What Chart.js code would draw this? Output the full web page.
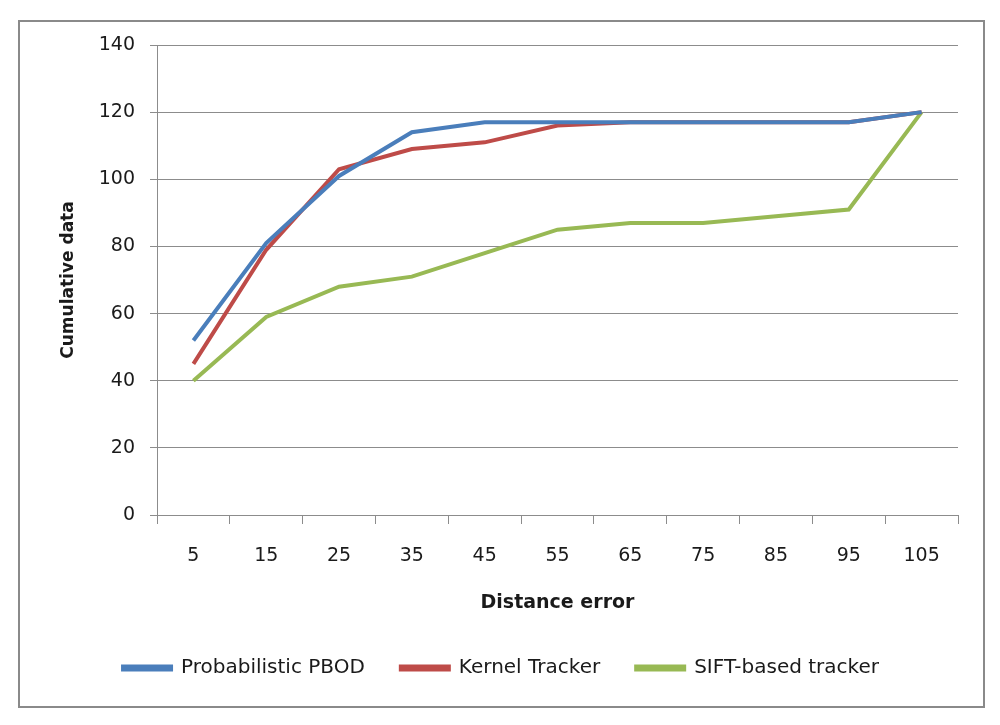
<!DOCTYPE html>
<html>
<head>
<meta charset="utf-8">
<script src="https://cdn.jsdelivr.net/npm/chart.js@4/dist/chart.umd.min.js"></script>
<style>
  body { margin: 0; background: #fff; }
  #wrap { position: relative; width: 1000px; height: 725px; }
  #frame {
    position: absolute; left: 18px; top: 20px; width: 963px; height: 684px;
    border: 2px solid #8a8a8a;
  }
  canvas { position: absolute; left: 0; top: 0; }
</style>
</head>
<body>
<div id="wrap">
  <div id="frame"></div>
  <canvas id="chart" width="1000" height="725"></canvas>
</div>
<script>
const distances = ["5", "15", "25", "35", "45", "55", "65", "75", "85", "95", "105"];
const pbod = [52, 81, 101, 114, 117, 117, 117, 117, 117, 117, 120];
const kernel = [45, 79, 103, 109, 111, 116, 117, 117, 117, 117, 120];
const sift = [40, 59, 68, 71, 78, 85, 87, 87, 89, 91, 120];

const gridGray = "#8c8c8c";
const textColor = "#1a1a1a";

function drawChart() {
  const ctx = document.getElementById("chart").getContext("2d");
  const series = [
    { label: "Probabilistic PBOD", data: pbod, color: "#4A7EBB" },
    { label: "Kernel Tracker", data: kernel, color: "#BE4B48" },
    { label: "SIFT-based tracker", data: sift, color: "#98B954" },
  ];

  new Chart(ctx, {
    type: "line",
    data: {
      labels: distances,
      datasets: series.map((s) => ({
        label: s.label,
        data: s.data,
        borderColor: s.color,
        backgroundColor: s.color,
        borderWidth: 4,
        pointRadius: 0,
        tension: 0,
        fill: false,
      })),
    },
    options: {
      responsive: false,
      animation: false,
      // left padding only moves the legend centre, plot area stays at x=157
      layout: { padding: { top: 45, right: 42, bottom: 37, left: 44 } },
      plugins: {
        legend: {
          position: "bottom",
          labels: {
            boxWidth: 48,
            boxHeight: 3,
            padding: 36,
            color: textColor,
            font: { family: "DejaVu Sans", size: 20 },
          },
        },
        tooltip: { enabled: false },
      },
      scales: {
        x: {
          offset: true,
          grid: {
            offset: true,
            drawOnChartArea: false,
            drawTicks: true,
            tickLength: 9,
            color: gridGray,
          },
          border: { color: gridGray },
          ticks: {
            padding: 21,
            color: textColor,
            maxRotation: 0,
            font: { family: "DejaVu Sans", size: 19 },
          },
          title: {
            display: true,
            text: "Distance error",
            color: textColor,
            font: { family: "DejaVu Sans", size: 19, weight: "bold" },
            padding: { top: 0, bottom: 8 },
          },
          afterFit: (scale) => {
            scale.height = 107;
          },
        },
        y: {
          min: 0,
          max: 140,
          ticks: {
            stepSize: 20,
            padding: 15,
            color: textColor,
            font: { family: "DejaVu Sans", size: 19 },
          },
          grid: { color: gridGray, tickLength: 7 },
          border: { color: gridGray },
          title: {
            display: true,
            text: "Cumulative data",
            color: textColor,
            font: { family: "DejaVu Sans", size: 17, weight: "bold" },
            padding: { top: 14, bottom: 0 },
          },
          afterFit: (scale) => {
            scale.width = 113;
          },
        },
      },
    },
  });
}

drawChart();
</script>
</body>
</html>
